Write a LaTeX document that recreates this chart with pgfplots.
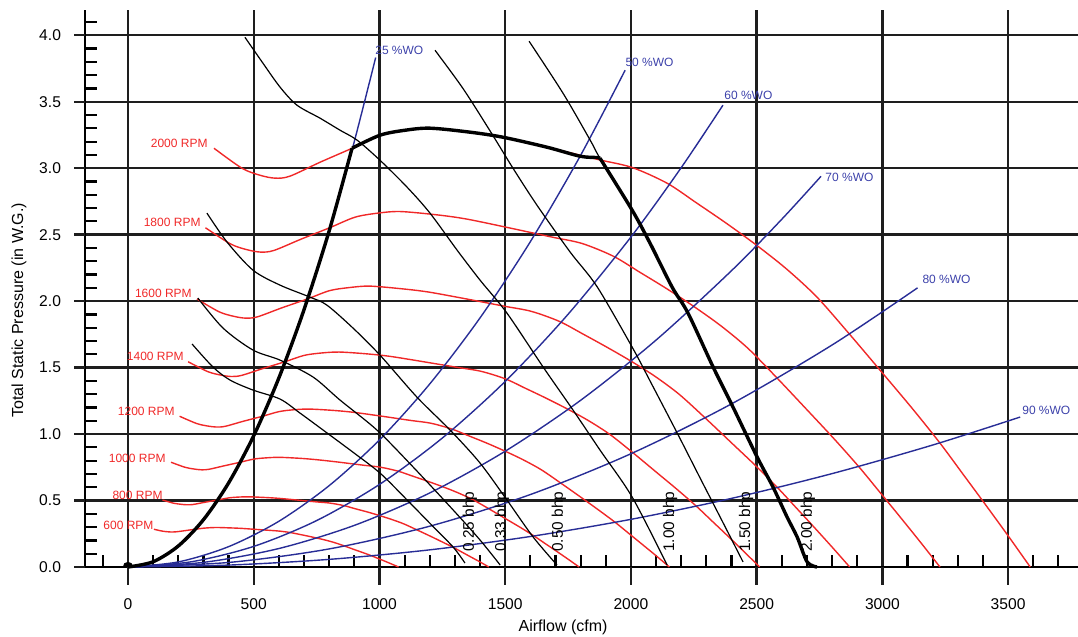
\documentclass[border=0pt]{standalone}
\usepackage{fontspec}
\setmainfont{Liberation Sans}
\usepackage{pgfplots}
\pgfplotsset{compat=1.18}
\definecolor{rpmred}{RGB}{240,40,40}
\definecolor{woblue}{RGB}{40,45,150}
\definecolor{wotext}{RGB}{60,65,170}
\definecolor{gridc}{RGB}{30,30,30}
\pgfdeclareplotmark{halfdot}{%
  \pgfpathmoveto{\pgfqpoint{-\pgfplotmarksize}{0pt}}%
  \pgfpatharc{180}{0}{\pgfplotmarksize}%
  \pgfpathclose\pgfusepathqfill}
\tikzset{
  rpm/.style={rpmred, line width=0.7pt, smooth},
  wo/.style={woblue, line width=0.7pt, smooth},
  bhp/.style={black, line width=0.6pt, smooth},
  env/.style={black, line width=1.7pt, smooth, line join=round},
  rpmlab/.style={rpmred, font=\fontsize{6}{7}\selectfont, anchor=east, inner sep=0pt},
  wolab/.style={wotext, font=\fontsize{6}{7}\selectfont, anchor=west, inner sep=0pt},
  bhplab/.style={black, font=\fontsize{7.7}{9}\selectfont, rotate=90, anchor=west, inner sep=0pt},
}
\begin{document}
\begin{tikzpicture}
\begin{axis}[
  scale only axis, width=496.5pt, height=278.5pt,
  xmin=-171, xmax=3778, ymin=0, ymax=4.19,
  clip=false,
  axis lines*=left,
  axis line style={-, line width=1.2pt, black},
  xtick={0,500,1000,1500,2000,2500,3000,3500},
  ytick={0,0.5,1,1.5,2,2.5,3,3.5,4},
  minor xtick={-100,100,200,300,400,600,700,800,900,1100,1200,1300,1400,1600,1700,1800,1900,2100,2200,2300,2400,2600,2700,2800,2900,3100,3200,3300,3400,3600,3700},
  minor ytick={0.1,0.2,0.3,0.4,0.6,0.7,0.8,0.9,1.1,1.2,1.3,1.4,1.6,1.7,1.8,1.9,2.1,2.2,2.3,2.4,2.6,2.7,2.8,2.9,3.1,3.2,3.3,3.4,3.6,3.7,3.8,3.9,4.1},
  grid=major, major grid style={gridc, line width=1.2pt},
  tick align=inside, major tick length=0pt, minor tick length=6pt,
  minor tick style={line width=1.1pt, black},
  /pgf/number format/assume math mode=true,
  xticklabel style={font=\fontsize{7.8}{9}\selectfont, anchor=north, yshift=-12.5pt, /pgf/number format/1000 sep={}},
  yticklabel style={font=\fontsize{7.8}{9}\selectfont, anchor=east, xshift=-8.5pt, /pgf/number format/.cd, fixed, fixed zerofill, precision=1},
  xlabel={Airflow (cfm)},
  ylabel={Total Static Pressure (in W.G.)},
  every axis x label/.style={at={([yshift=-30pt]axis description cs:0.4814,0)}, anchor=center, font=\fontsize{8}{10}\selectfont},
  every axis y label/.style={at={([xshift=-33pt]axis description cs:0,0.461)}, rotate=90, anchor=center, font=\fontsize{8}{10}\selectfont},
]
% outward extensions of the major grid lines
\pgfplotsinvokeforeach{0,500,1000,1500,2000,2500,3000,3500}{\draw[gridc, line width=1.2pt] (axis cs:#1,0) -- ++(0pt,-9pt);}
\pgfplotsinvokeforeach{0,0.5,1,1.5,2,2.5,3,3.5,4}{\draw[gridc, line width=1.2pt] (axis cs:-171,#1) -- ++(-5.5pt,0pt);}

% ---------- fan speed curves ----------
\addplot[rpm, no marks] coordinates {(342,3.150)(453,3.000)(525,2.947)(585,2.925)(644,2.940)(764,3.045)(891,3.150)(1002,3.248)(1100,3.285)(1201,3.301)(1360,3.271)(1491,3.233)(1666,3.158)(1870,3.065)(2005,3.005)(2144,2.887)(2260,2.740)(2380,2.585)(2500,2.420)(2620,2.240)(2740,2.030)(2870,1.750)(3000,1.460)(3120,1.190)(3230,0.930)(3320,0.700)(3400,0.495)(3500,0.235)(3588,0)};
\addplot[rpm, no marks] coordinates {(308,2.552)(408,2.430)(473,2.387)(527,2.369)(580,2.381)(688,2.466)(802,2.552)(902,2.631)(990,2.661)(1081,2.674)(1224,2.650)(1342,2.619)(1499,2.558)(1683,2.483)(1805,2.434)(1930,2.338)(2034,2.219)(2142,2.094)(2250,1.960)(2358,1.814)(2466,1.644)(2583,1.418)(2700,1.183)(2808,0.964)(2907,0.753)(2988,0.567)(3060,0.401)(3150,0.190)(3229,0)};
\addplot[rpm, no marks] coordinates {(274,2.016)(362,1.920)(420,1.886)(468,1.872)(515,1.882)(611,1.949)(713,2.016)(802,2.079)(880,2.102)(961,2.113)(1088,2.093)(1193,2.069)(1333,2.021)(1496,1.962)(1604,1.923)(1715,1.848)(1808,1.754)(1904,1.654)(2000,1.549)(2096,1.434)(2192,1.299)(2296,1.120)(2400,0.934)(2496,0.762)(2584,0.595)(2656,0.448)(2720,0.317)(2800,0.150)(2870,0)};
\addplot[rpm, no marks] coordinates {(239,1.544)(317,1.470)(368,1.444)(410,1.433)(451,1.441)(535,1.492)(624,1.544)(701,1.592)(770,1.610)(841,1.617)(952,1.603)(1044,1.584)(1166,1.547)(1309,1.502)(1404,1.472)(1501,1.415)(1582,1.343)(1666,1.267)(1750,1.186)(1834,1.098)(1918,0.995)(2009,0.858)(2100,0.715)(2184,0.583)(2261,0.456)(2324,0.343)(2380,0.243)(2450,0.115)(2512,0)};
\addplot[rpm, no marks] coordinates {(205,1.134)(272,1.080)(315,1.061)(351,1.053)(386,1.058)(458,1.096)(535,1.134)(601,1.169)(660,1.183)(721,1.188)(816,1.178)(895,1.164)(1000,1.137)(1122,1.103)(1203,1.082)(1286,1.039)(1356,0.986)(1428,0.931)(1500,0.871)(1572,0.806)(1644,0.731)(1722,0.630)(1800,0.526)(1872,0.428)(1938,0.335)(1992,0.252)(2040,0.178)(2100,0.085)(2153,0)};
\addplot[rpm, no marks] coordinates {(171,0.788)(227,0.750)(263,0.737)(293,0.731)(322,0.735)(382,0.761)(446,0.788)(501,0.812)(550,0.821)(601,0.825)(680,0.818)(746,0.808)(833,0.790)(935,0.766)(1003,0.751)(1072,0.722)(1130,0.685)(1190,0.646)(1250,0.605)(1310,0.560)(1370,0.508)(1435,0.438)(1500,0.365)(1560,0.298)(1615,0.233)(1660,0.175)(1700,0.124)(1750,0.059)(1794,0)};
\addplot[rpm, no marks] coordinates {(137,0.504)(181,0.480)(210,0.472)(234,0.468)(258,0.470)(306,0.487)(356,0.504)(401,0.520)(440,0.526)(480,0.528)(544,0.523)(596,0.517)(666,0.505)(748,0.490)(802,0.481)(858,0.462)(904,0.438)(952,0.414)(1000,0.387)(1048,0.358)(1096,0.325)(1148,0.280)(1200,0.234)(1248,0.190)(1292,0.149)(1328,0.112)(1360,0.079)(1400,0.038)(1435,0)};
\addplot[rpm, no marks] coordinates {(103,0.284)(136,0.270)(158,0.265)(176,0.263)(193,0.265)(229,0.274)(267,0.284)(301,0.292)(330,0.296)(360,0.297)(408,0.294)(447,0.291)(500,0.284)(561,0.276)(602,0.270)(643,0.260)(678,0.247)(714,0.233)(750,0.218)(786,0.202)(822,0.183)(861,0.158)(900,0.131)(936,0.107)(969,0.084)(996,0.063)(1020,0.045)(1050,0.021)(1076,0)};

% ---------- system curves (% wide open) ----------
\addplot[wo, no marks] coordinates {(0,0)(100,0.0395)(200,0.158)(300,0.3555)(400,0.632)(500,0.9875)(600,1.422)(700,1.9355)(800,2.528)(891,3.136)(985,3.832)};
\addplot[wo, no marks] coordinates {(0,0)(200,0.0382)(400,0.153)(600,0.344)(800,0.612)(1000,0.956)(1200,1.377)(1400,1.874)(1600,2.447)(1800,3.097)(1977,3.737)};
\addplot[wo, no marks] coordinates {(0,0)(250,0.0388)(500,0.155)(750,0.349)(1000,0.621)(1250,0.970)(1500,1.396)(1750,1.901)(2000,2.482)(2200,3.004)(2366,3.474)};
\addplot[wo, no marks] coordinates {(0,0)(300,0.0348)(600,0.139)(900,0.313)(1200,0.557)(1500,0.871)(1800,1.254)(2100,1.707)(2400,2.229)(2600,2.616)(2756,2.939)};
\addplot[wo, no marks] coordinates {(0,0)(400,0.0341)(800,0.136)(1200,0.307)(1600,0.545)(2000,0.852)(2400,1.227)(2800,1.670)(3140,2.100)};
\addplot[wo, no marks] coordinates {(0,0)(400,0.01434)(800,0.05734)(1200,0.1290)(1600,0.2294)(2000,0.3584)(2400,0.5161)(2800,0.7025)(3200,0.9175)(3548,1.128)};

% ---------- brake horsepower curves ----------
\addplot[bhp, no marks] coordinates {(255,1.677)(338,1.504)(406,1.406)(497,1.331)(605,1.263)(684,1.158)(776,1.030)(890,0.870)(1002,0.707)(1110,0.504)(1200,0.330)(1293,0.150)(1340,0.030)};
\addplot[bhp, no marks] coordinates {(278,2.023)(378,1.797)(497,1.632)(605,1.556)(736,1.429)(843,1.256)(990,1.030)(1134,0.752)(1293,0.429)(1400,0.203)(1480,0.015)};
\addplot[bhp, no marks] coordinates {(314,2.662)(394,2.444)(497,2.233)(605,2.120)(724,2.030)(791,1.970)(895,1.797)(1002,1.594)(1149,1.278)(1281,1.030)(1400,0.782)(1507,0.504)(1611,0.226)(1706,0.015)};
\addplot[bhp, no marks] coordinates {(465,3.985)(537,3.789)(605,3.609)(672,3.474)(764,3.376)(843,3.286)(911,3.211)(1002,3.060)(1110,2.857)(1201,2.662)(1309,2.383)(1400,2.158)(1507,1.910)(1651,1.504)(1770,1.180)(1877,0.880)(2005,0.526)(2144,0.015)};
\addplot[bhp, no marks] coordinates {(1221,3.887)(1332,3.600)(1440,3.280)(1531,3.000)(1627,2.720)(1758,2.370)(1865,2.110)(2005,1.654)(2076,1.400)(2184,1.008)(2275,0.670)(2367,0.331)(2446,0.038)};
\addplot[bhp, no marks] coordinates {(1595,3.955)(1730,3.564)(1838,3.211)(1877,3.075)(2005,2.684)(2076,2.436)(2164,2.105)(2227,1.910)(2327,1.504)(2406,1.203)(2502,0.827)(2565,0.602)(2621,0.376)(2661,0.226)(2701,0.038)(2740,0)};

% ---------- operating envelope (thick) ----------
\addplot[env, no marks] coordinates {(0,0)(100,0.0395)(200,0.158)(300,0.3555)(400,0.632)(500,0.9875)(600,1.422)(700,1.9355)(800,2.528)(891,3.150)};
\addplot[env, no marks] coordinates {(891,3.150)(1002,3.248)(1100,3.285)(1201,3.301)(1360,3.271)(1491,3.233)(1666,3.158)(1798,3.090)(1865,3.080)(1877,3.075)};
\addplot[env, no marks] coordinates {(1877,3.075)(2005,2.684)(2076,2.436)(2164,2.105)(2227,1.910)(2327,1.504)(2406,1.203)(2502,0.827)(2565,0.602)(2621,0.376)(2661,0.226)(2701,0.038)(2740,0)};
\addplot[black, only marks, mark=halfdot, mark size=2.6pt] coordinates {(0,0)};

% ---------- labels ----------
\node[rpmlab] at (axis cs:318,3.19) {2000 RPM};
\node[rpmlab] at (axis cs:290,2.594) {1800 RPM};
\node[rpmlab] at (axis cs:255,2.06) {1600 RPM};
\node[rpmlab] at (axis cs:223,1.586) {1400 RPM};
\node[rpmlab] at (axis cs:187,1.173) {1200 RPM};
\node[rpmlab] at (axis cs:151,0.82) {1000 RPM};
\node[rpmlab] at (axis cs:139,0.541) {800 RPM};
\node[rpmlab] at (axis cs:103,0.316) {600 RPM};
\node[wolab] at (axis cs:982,3.887) {25 \%WO};
\node[wolab] at (axis cs:1977,3.797) {50 \%WO};
\node[wolab] at (axis cs:2370,3.549) {60 \%WO};
\node[wolab] at (axis cs:2772,2.932) {70 \%WO};
\node[wolab] at (axis cs:3158,2.165) {80 \%WO};
\node[wolab] at (axis cs:3555,1.180) {90 \%WO};
\node[bhplab] at (axis cs:1360,0.113) {0.25 bhp};
\node[bhplab] at (axis cs:1487,0.113) {0.33 bhp};
\node[bhplab] at (axis cs:1714,0.113) {0.50 bhp};
\node[bhplab] at (axis cs:2156,0.113) {1.00 bhp};
\node[bhplab] at (axis cs:2458,0.113) {1.50 bhp};
\node[bhplab] at (axis cs:2704,0.113) {2.00 bhp};
\end{axis}
\pgfresetboundingbox
\useasboundingbox (-42.5pt,-35pt) rectangle (496.5pt,283.5pt);
\end{tikzpicture}
\end{document}
